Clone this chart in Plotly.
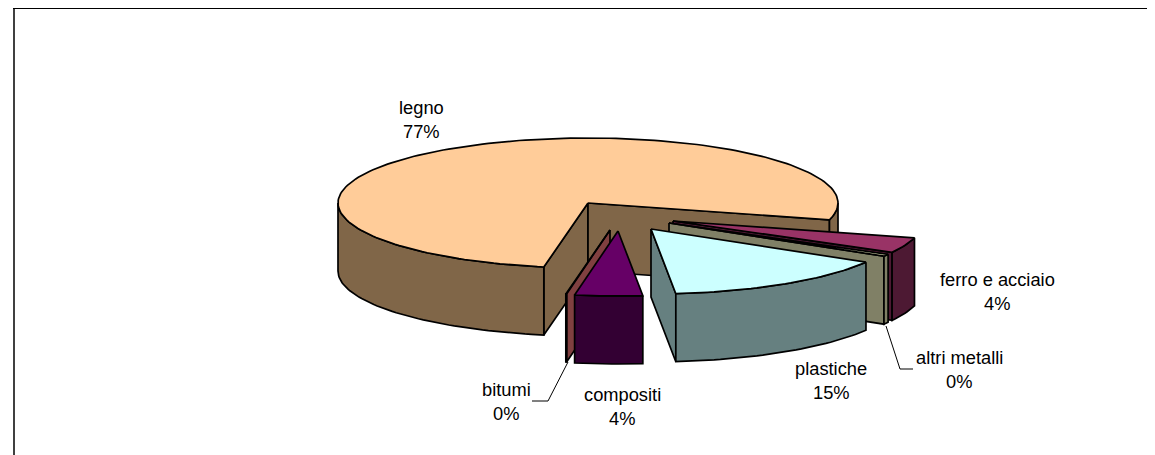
import math
import plotly.graph_objects as go

# Data (clockwise from the start angle)
categories = ["ferro e acciaio", "altri metalli", "plastiche", "compositi", "bitumi", "legno"]
values = [3.83, 0.53, 14.89, 4.36, 0.05, 76.34]
percent_labels = ["4%", "0%", "15%", "4%", "0%", "77%"]

# Style and layout
top_colors = ["#993366", "#FFFFCC", "#CCFFFF", "#660066", "#993333", "#FFCC99"]
side_colors = ["#4D1933", "#808066", "#668080", "#330033", "#804040", "#806648"]
explode_dx = [85, 81, 63, 30, 22, 0]
explode_dy = [18, 20, 26, 28, 27, 0]
draw_order = [5, 0, 1, 2, 4, 3]
label_pos = [(997, 279), (959, 357), (831, 368), (622, 394), (506, 389), (421, 107)]
leaders = [None, [(886, 326), (900, 369), (913, 369)], None, None,
           [(568, 362), (548, 401), (532, 401)], None]
CX, CY, RX, RY, DEPTH = 588.0, 203.0, 250.0, 65.0, 68.0
START = 105.0
LINE = 1.7
PAGE_MARGIN = 8  # the page body offsets the plot by this many pixels


def rim(theta, dx, dy, dz=0.0):
    t = math.radians(theta)
    return (CX + dx + RX * math.sin(t), CY + dy - RY * math.cos(t) + dz)


def arc(a, b, dx, dy, dz=0.0):
    n = max(2, int(abs(b - a) / 1.5) + 2)
    return [rim(a + (b - a) * i / (n - 1), dx, dy, dz) for i in range(n)]


def poly(pts, fill):
    pts = list(pts) + [pts[0]]
    return go.Scatter(x=[p[0] for p in pts], y=[p[1] for p in pts], mode="lines",
                      fill="toself", fillcolor=fill,
                      line=dict(color="black", width=LINE, shape="linear"),
                      hoverinfo="skip", showlegend=False)


total = sum(values)
spans = []
angle = START
for v in values:
    spans.append((angle, angle + v / total * 360.0))
    angle = spans[-1][1]

fig = go.Figure()
for i in draw_order:
    a, b = spans[i]
    dx, dy = explode_dx[i], explode_dy[i]
    apex = (CX + dx, CY + dy)
    apex_low = (apex[0], apex[1] + DEPTH)
    # visible cut faces
    if math.sin(math.radians(a)) < 0:
        p, q = rim(a, dx, dy), rim(a, dx, dy, DEPTH)
        fig.add_trace(poly([apex, p, q, apex_low], side_colors[i]))
    if math.sin(math.radians(b)) > 0:
        p, q = rim(b, dx, dy), rim(b, dx, dy, DEPTH)
        fig.add_trace(poly([apex, p, q, apex_low], side_colors[i]))
    # visible rim sections: the front half of the circle
    for lo, hi in [(90.0, 270.0), (450.0, 630.0)]:
        s, e = max(a, lo), min(b, hi)
        if e > s:
            fig.add_trace(poly(arc(s, e, dx, dy) + arc(e, s, dx, dy, DEPTH), side_colors[i]))
    # top
    fig.add_trace(poly([apex] + arc(a, b, dx, dy), top_colors[i]))

# leader lines
for pts in leaders:
    if pts:
        fig.add_trace(go.Scatter(x=[p[0] for p in pts], y=[p[1] for p in pts], mode="lines",
                                 line=dict(color="black", width=1), hoverinfo="skip", showlegend=False))

# chart frame: left and top edges only are in view
fig.add_trace(go.Scatter(x=[14, 14], y=[470, 8], mode="lines",
                         line=dict(color="#404040", width=2), hoverinfo="skip", showlegend=False))
fig.add_trace(go.Scatter(x=[13, 1170], y=[8.5, 8.5], mode="lines",
                         line=dict(color="black", width=1), hoverinfo="skip", showlegend=False))

annotations = []
font = dict(family="Liberation Sans", size=18.3, color="black")
for c, t, p in zip(categories, percent_labels, label_pos):
    annotations.append(dict(x=p[0], y=p[1], xref="x", yref="y", text=c, showarrow=False,
                            xanchor="center", yanchor="middle", font=font))
    annotations.append(dict(x=p[0], y=p[1] + 24, xref="x", yref="y", text=t, showarrow=False,
                            xanchor="center", yanchor="middle", font=font))

fig.update_layout(
    width=1155, height=455, margin=dict(l=0, r=0, t=0, b=0),
    paper_bgcolor="white", plot_bgcolor="white", showlegend=False,
    xaxis=dict(range=[PAGE_MARGIN, 1155 + PAGE_MARGIN], visible=False, fixedrange=True),
    yaxis=dict(range=[455 + PAGE_MARGIN, PAGE_MARGIN], visible=False, fixedrange=True),
    annotations=annotations,
)
fig.write_html("out.html", config=dict(displayModeBar=False))
